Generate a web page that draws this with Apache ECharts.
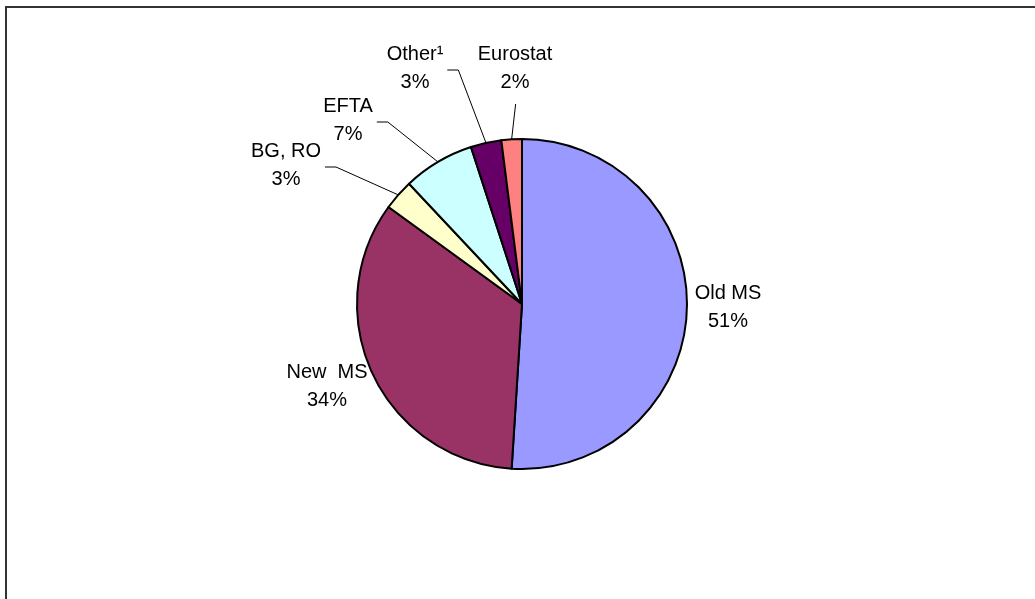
<!DOCTYPE html>
<html>
<head>
<meta charset="utf-8">
<script src="https://cdn.jsdelivr.net/npm/echarts@6/dist/echarts.min.js"></script>
<style>
html,body{margin:0;padding:0;background:#fff;}
#chart{width:1035px;height:599px;}
</style>
</head>
<body>
<div id="chart"></div>
<script>
// Data
const categories = ['Old MS', 'New  MS', 'BG, RO', 'EFTA', 'Other\u00B9', 'Eurostat'];
const shares = [51, 34, 3, 7, 3, 2];
const colors = ['#9999FF', '#993366', '#FFFFCC', '#CCFFFF', '#660066', '#FF8080'];

// Label placement (centre of label block) and leader style
const labelPos = [[728, 307], [327, 386], [286, 165], [348, 120], [415, 68], [515, 68]];
const leaderType = ['none', 'none', 'side', 'side', 'side', 'below'];

const chart = echarts.init(document.getElementById('chart'), null, {renderer: 'canvas'});

const data = categories.map((name, i) => ({
  name: name,
  value: shares[i],
  itemStyle: {color: colors[i]},
  labelLine: {show: leaderType[i] !== 'none'}
}));

chart.setOption({
  animation: false,
  backgroundColor: '#ffffff',
  graphic: [{
    type: 'rect',
    shape: {x: 6, y: 7, width: 1100, height: 700},
    style: {fill: 'none', stroke: '#333333', lineWidth: 2},
    silent: true
  }],
  series: [{
    type: 'pie',
    center: [522, 304],
    radius: 165,
    startAngle: 90,
    clockwise: true,
    avoidLabelOverlap: false,
    itemStyle: {borderColor: '#000000', borderWidth: 2},
    label: {
      show: true,
      position: 'outside',
      formatter: p => p.name + '\n' + Math.round(p.percent) + '%',
      fontFamily: 'Liberation Sans, Arial, sans-serif',
      fontSize: 20,
      lineHeight: 28,
      color: '#000000',
      align: 'center'
    },
    labelLine: {
      show: true,
      length: 20,
      length2: 10,
      lineStyle: {color: '#000000', width: 1}
    },
    labelLayout: function (params) {
      const i = params.dataIndex;
      const pos = labelPos[i];
      const w = params.labelRect.width;
      const h = params.labelRect.height;
      const res = {x: pos[0], y: pos[1], align: 'center', verticalAlign: 'middle'};
      const pts = params.labelLinePoints;
      if (pts && leaderType[i] === 'side') {
        const anchor = pts[0];
        const right = pos[0] + w / 2 + 4;
        const ty = pos[1] + 2;
        res.labelLinePoints = [[anchor[0], anchor[1]], [right + 11, ty], [right, ty]];
      } else if (pts && leaderType[i] === 'below') {
        const anchor = pts[0];
        const bottom = pos[1] + h / 2 + 8;
        res.labelLinePoints = [[anchor[0], anchor[1]], [anchor[0] + 4, bottom], [anchor[0] + 4, bottom]];
      }
      return res;
    },
    data: data
  }]
});
</script>
</body>
</html>
